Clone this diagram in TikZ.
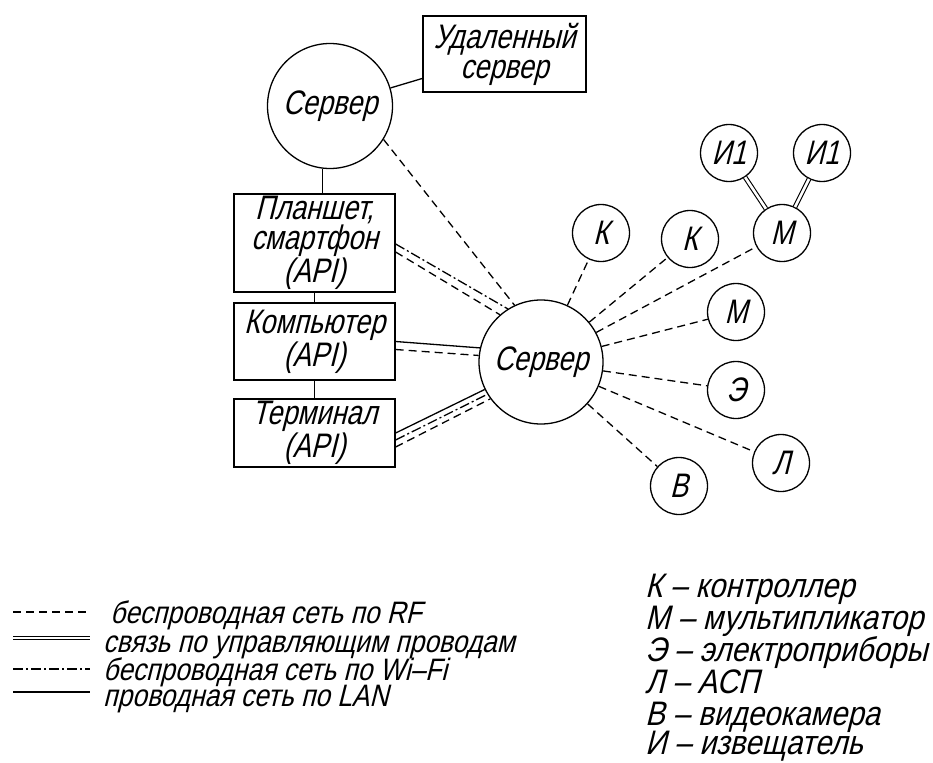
\documentclass[tikz,border=0pt]{standalone}
\usepackage{fontspec}
\setmainfont{Liberation Sans}[FakeStretch=0.8,FakeSlant=0.25]
\newfontfamily\legfontA{Liberation Sans}[FakeStretch=0.85,FakeSlant=0.25]
\newfontfamily\legfontB{Liberation Sans}[FakeStretch=0.87,FakeSlant=0.25]
\newcommand\gostN{\fontsize{34}{30}\selectfont}
\newcommand\gostL{\legfontA\fontsize{31}{30}\selectfont}
\newcommand\gostR{\legfontB\fontsize{34}{30}\selectfont}
\begin{document}
\begin{tikzpicture}[x=1pt,y=-1pt,
  conn/.style={line width=1.3pt},
  rf/.style={conn, dash pattern=on 8pt off 5pt},
  wifi/.style={conn, dash pattern=on 10pt off 3pt on 2pt off 3pt},
  lan/.style={conn},
  wire/.style={line width=1.1pt, double, double distance=2.6pt},
  bigc/.style={circle, draw, line width=1.3pt, minimum size=125pt, inner sep=0pt, font=\gostN},
  smc/.style={circle, draw, line width=1.3pt, minimum size=57pt, inner sep=0pt, font=\gostN},
  box/.style={rectangle, draw, line width=1.3pt, minimum width=161pt, inner sep=0pt, align=center, font=\gostN},
  leg/.style={anchor=base west, inner sep=0pt, font=\gostL},
  legr/.style={anchor=base west, inner sep=0pt, font=\gostR}
]
\useasboundingbox (0,0) rectangle (933,762);

% nodes
\node[bigc] (srvT) at (330,106) {Сервер};
\node[box, minimum width=163pt, minimum height=76pt] (remote) at (504.5,54) {Удаленный\\сервер};
\node[box, minimum height=98pt] (tab) at (314.5,243) {Планшет,\\смартфон\\(API)};
\node[box, minimum height=77pt] (comp) at (314.5,341.5) {Компьютер\\(API)};
\node[box, minimum height=68pt] (term) at (314.5,433) {Терминал\\(API)};
\node[bigc, minimum size=124pt] (srv) at (541,362) {Сервер};

\node[smc] (k1) at (601,233) {К};
\node[smc] (k2) at (690,239) {К};
\node[smc] (mt) at (782,233) {М};
\node[smc] (mm) at (736,312) {М};
\node[smc] (e) at (736,390) {Э};
\node[smc] (l) at (781,463) {Л};
\node[smc] (v) at (679,486) {В};
\node[smc] (i1) at (729,153) {И1};
\node[smc] (i2) at (822,153) {И1};

% connectors
\draw[lan] (srvT) -- (remote);
\draw[lan] (srvT.-97) -- (tab.north -| srvT.-97);
\draw[lan] (tab) -- (comp);
\draw[lan] (comp) -- (term);
\draw[rf] (srvT.-32) -- (srv.115);
\draw[wifi] ([yshift=-1pt]tab.east) -- (srv.122);
\draw[rf] ([yshift=-9pt]tab.east) -- (srv.131);
\draw[lan] (comp.east) -- (srv.167);
\draw[rf] ([yshift=-8pt]comp.east) -- (srv.174);
\draw[lan] (term.east) -- (srv.206);
\draw[wifi] ([yshift=-7pt]term.east) -- (srv.211);
\draw[rf] ([yshift=-14pt]term.east) -- (srv.216);

\draw[rf] (srv) -- (k1);
\draw[rf] (srv) -- (k2);
\draw[rf] (srv) -- (mt);
\draw[rf] (srv) -- (mm);
\draw[rf] (srv) -- (e);
\draw[rf] (srv) -- (l);
\draw[rf] (srv) -- (v);
\draw[wire] (i1) -- (mt);
\draw[wire] (i2) -- (mt);

% legend lines
\coordinate (a1) at (13,612); \coordinate (b1) at (90,612);
\coordinate (a2) at (13,638); \coordinate (b2) at (90,638);
\coordinate (a3) at (13,669); \coordinate (b3) at (90,669);
\coordinate (a4) at (13,692); \coordinate (b4) at (90,692);
\draw[rf, line width=1.1pt, dash pattern=on 8pt off 5pt] (a1) -- (b1);
\draw[wire] (a2) -- (b2);
\draw[wifi, line width=1.1pt] (a3) -- (b3);
\draw[lan, line width=1.1pt] (a4) -- (b4);

\node[leg] (t1) at (110,623) {беспроводная сеть по RF};
\node[leg] (t2) at (103,652) {связь по управляющим проводам};
\node[leg] (t3) at (103,680) {беспроводная сеть по Wi–Fi};
\node[leg] (t4) at (103,706) {проводная сеть по LAN};

\node[legr] (r1) at (645,597) {К – контроллер};
\node[legr] (r2) at (645,629) {М – мультипликатор};
\node[legr] (r3) at (645,661) {Э – электроприборы};
\node[legr] (r4) at (645,693) {Л – АСП};
\node[legr] (r5) at (645,725) {В – видеокамера};
\node[legr] (r6) at (645,754) {И – извещатель};
\end{tikzpicture}
\end{document}
